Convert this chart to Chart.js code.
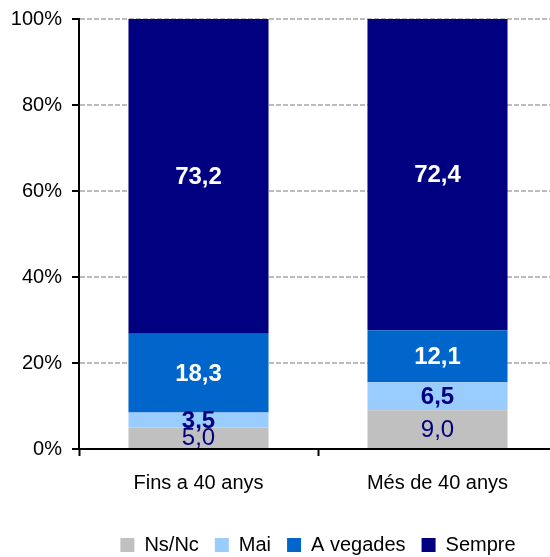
<!DOCTYPE html>
<html>
<head>
<meta charset="utf-8">
<script src="https://cdn.jsdelivr.net/npm/chart.js@4/dist/chart.umd.min.js"></script>
<style>
  html, body { margin: 0; padding: 0; background: #fff; overflow: hidden; width: 550px; height: 557px; }
  #wrap { position: absolute; left: 0; top: 0; width: 557px; height: 565px; }
</style>
</head>
<body>
<div id="wrap"><canvas id="chart" width="557" height="565"></canvas></div>
<script>
// Age groups and the share of answers in each (percent, stacked to 100)
const categories = ['Fins a 40 anys', 'Més de 40 anys'];
const seriesNames = ['Ns/Nc', 'Mai', 'A vegades', 'Sempre'];
const nsNc = [5.0, 9.0];
const mai = [3.5, 6.5];
const aVegades = [18.3, 12.1];
const sempre = [73.2, 72.4];
const yTicks = [0, 20, 40, 60, 80, 100];

const FONT = '"Liberation Sans", Arial, sans-serif';

const styles = [
  { fill: '#C0C0C0', text: '#000080', weight: 'normal' },
  { fill: '#99CCFF', text: '#000080', weight: 'bold' },
  { fill: '#0066CC', text: '#FFFFFF', weight: 'bold' },
  { fill: '#000080', text: '#FFFFFF', weight: 'bold' }
];
const seriesValues = [nsNc, mai, aVegades, sempre];

const datasets = seriesNames.map((name, i) => ({
  label: name,
  data: seriesValues[i],
  backgroundColor: styles[i].fill,
  borderWidth: 0,
  barPercentage: 0.586,
  categoryPercentage: 1.0
}));

// Writes each segment's value in its middle, with a decimal comma
const segmentLabels = {
  id: 'segmentLabels',
  afterDatasetsDraw(chart) {
    const ctx = chart.ctx;
    chart.data.datasets.forEach((ds, i) => {
      const meta = chart.getDatasetMeta(i);
      meta.data.forEach((bar, j) => {
        const p = bar.getCenterPoint();
        ctx.save();
        ctx.font = styles[i].weight + ' 24px ' + FONT;
        ctx.fillStyle = styles[i].text;
        ctx.textAlign = 'center';
        ctx.textBaseline = 'middle';
        ctx.fillText(ds.data[j].toFixed(1).replace('.', ','), p.x, p.y + 1);
        ctx.restore();
      });
    });
  }
};

new Chart(document.getElementById('chart'), {
  type: 'bar',
  data: { labels: categories, datasets },
  options: {
    responsive: false,
    animation: false,
    devicePixelRatio: 1,
    layout: { padding: { top: 19, left: 0, right: 0, bottom: 0 } },
    plugins: {
      legend: {
        position: 'bottom',
        fullSize: false,
        labels: {
          boxWidth: 14,
          boxHeight: 14,
          padding: 16,
          color: '#000',
          font: { family: FONT, size: 20 }
        }
      },
      tooltip: { enabled: false }
    },
    scales: {
      x: {
        stacked: true,
        afterFit(scale) { scale.height = 70; },
        grid: {
          display: true,
          drawOnChartArea: false,
          drawTicks: true,
          offset: true,
          tickLength: 7,
          tickColor: '#000',
          tickWidth: 2
        },
        border: { display: true, color: '#000', width: 2 },
        ticks: {
          color: '#000',
          padding: 15,
          font: { family: FONT, size: 20 }
        }
      },
      y: {
        stacked: true,
        min: 0,
        max: 100,
        afterFit(scale) {
          scale.width = 79;
          scale.paddingTop = 0;
          scale.paddingBottom = 0;
        },
        afterBuildTicks(scale) { scale.ticks = yTicks.map(v => ({ value: v })); },
        grid: {
          display: true,
          drawOnChartArea: true,
          drawTicks: true,
          color: '#bcbcbc',
          lineWidth: 2,
          tickLength: 7,
          tickColor: '#000',
          tickWidth: 2
        },
        border: { display: true, color: '#000', width: 2, dash: [5, 2] },
        ticks: {
          color: '#000',
          padding: 10,
          font: { family: FONT, size: 20 },
          callback: v => v + '%'
        }
      }
    }
  },
  plugins: [segmentLabels]
});
</script>
</body>
</html>
